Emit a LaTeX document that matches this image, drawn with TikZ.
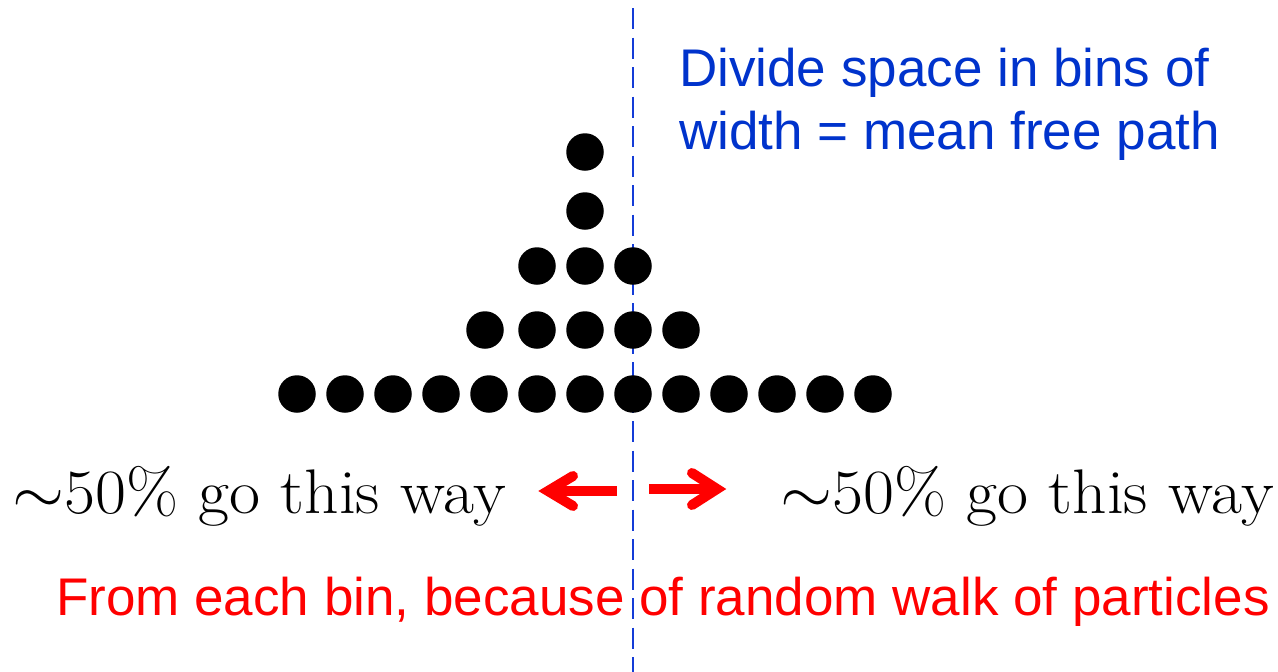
\documentclass[tikz,border=0pt]{standalone}
\usepackage{graphicx}
\usepackage{fontspec}
\usepackage{unicode-math}
\newfontfamily\arialfont{Liberation Sans}
\definecolor{lineblue}{RGB}{20,60,215}
\definecolor{textblue}{RGB}{0,51,204}
\definecolor{arrowred}{RGB}{255,0,0}
\newcommand{\wayText}{\scalebox{1.07}[1]{$\sim$50\% go this way}}
\begin{document}
\begin{tikzpicture}[x=1pt,y=-1pt,
  dot/.style={circle,fill=black,inner sep=0pt,minimum size=37.5pt},
  sanslabel/.style={anchor=base west,inner sep=0pt,font=\arialfont\fontsize{53}{60}\selectfont},
  seriflabel/.style={anchor=base west,inner sep=0pt,text=black,font=\fontsize{63}{70}\selectfont},
  shaft/.style={draw=arrowred,line width=10pt,line cap=butt},
  barb/.style={draw=arrowred,line width=10pt,line cap=round,line join=miter},
  divider/.style={draw=lineblue,line width=2.7pt,dash pattern=on 21pt off 8.5pt}]
\useasboundingbox (0,0) rectangle (1278,672);
% dashed divider
\coordinate (dtop) at (633,8);
\coordinate (dbot) at (633,672);
\draw[divider] (dtop) -- (dbot);
% dots
\foreach \i in {0,...,12} \node[dot] (b\i) at ({297+48*\i},394) {};
\node[dot] (r2a) at (485,330) {};
\foreach \i/\x in {1/537,2/585,3/633,4/681} \node[dot] (r2\i) at (\x,330) {};
\foreach \i/\x in {1/537,2/585,3/633} \node[dot] (r3\i) at (\x,266) {};
\node[dot] (r4) at (585,211) {};
\node[dot] (r5) at (585,152) {};
% texts
\node[sanslabel,text=textblue] (t1) at (679,86) {Divide space in bins of};
\node[sanslabel,text=textblue] (t2) at (679,149) {width = mean free path};
\node[seriflabel] (lw) at (12,513) {\wayText};
\node[seriflabel] (rw) at (780,513) {\wayText};
\node[sanslabel,text=arrowred] (bot) at (56,615) {From each bin, because of random walk of particles};
% left arrow
\coordinate (ls) at (617,491);
\coordinate (lv) at (548,491);
\coordinate (la1) at (573,476);
\coordinate (la2) at (573,506);
\draw[shaft] (ls) -- (lv);
\draw[barb] (la1) -- (lv) -- (la2);
% right arrow
\coordinate (rs) at (649,489);
\coordinate (rv) at (717,489);
\coordinate (ra1) at (692,473);
\coordinate (ra2) at (692,505);
\draw[shaft] (rs) -- (rv);
\draw[barb] (ra1) -- (rv) -- (ra2);
\end{tikzpicture}
\end{document}
